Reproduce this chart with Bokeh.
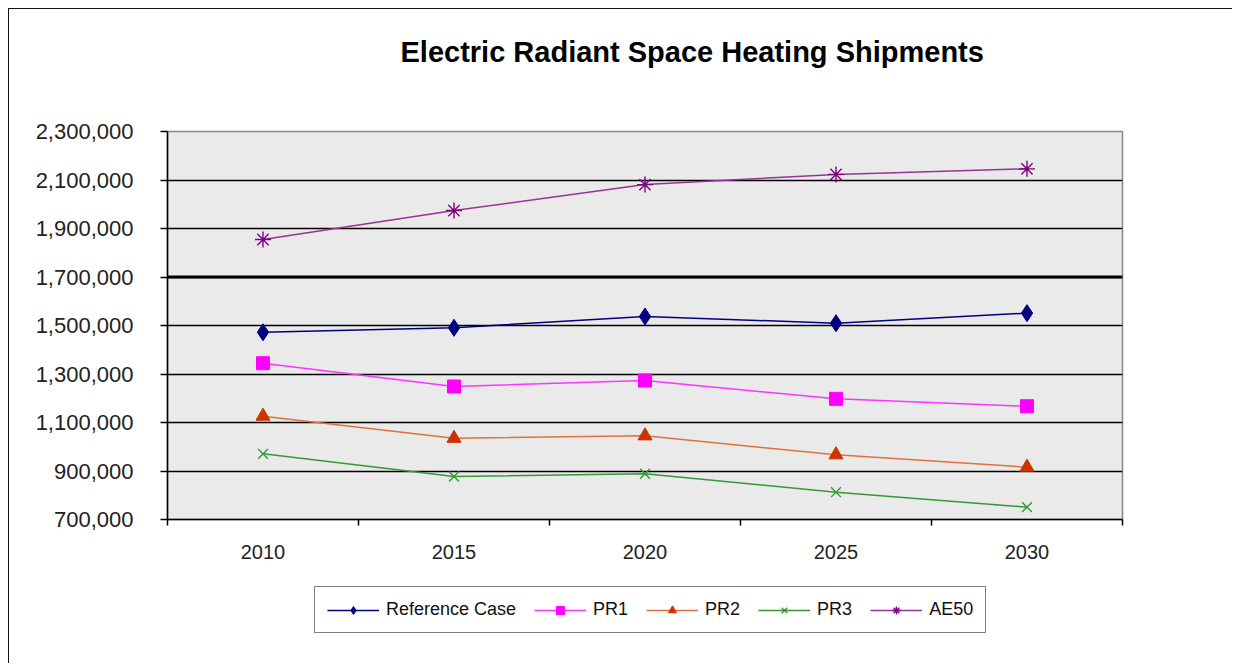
from bokeh.plotting import figure
from bokeh.layouts import column
from bokeh.models import FixedTicker, NumeralTickFormatter, Span, Legend, LegendItem, Range1d
from bokeh.embed import file_html
from bokeh.resources import INLINE

years = [2010, 2015, 2020, 2025, 2030]
reference_case = [1472000, 1490500, 1537000, 1509500, 1551000]
pr1 = [1344500, 1248500, 1273000, 1197600, 1167000]
pr2 = [1126000, 1035000, 1045000, 966700, 915800]
pr3 = [970800, 877300, 888400, 812700, 750900]
ae50 = [1854600, 1974000, 2081000, 2123000, 2146000]

y_ticks = [700000, 900000, 1100000, 1300000, 1500000, 1700000, 1900000, 2100000, 2300000]

series = [
    ("Reference Case", reference_case, "#000080", "#000080", "diamond", 17),
    ("PR1", pr1, "#FF33FF", "#FF00FF", "square", 13),
    ("PR2", pr2, "#E0703C", "#CC3300", "triangle", 14),
    ("PR3", pr3, "#339933", "#339933", "x", 14),
    ("AE50", ae50, "#993399", "#800080", "asterisk", 16),
]

p = figure(
    frame_width=955, frame_height=388,
    min_border_left=158, min_border_right=110, min_border_top=122, min_border_bottom=60,
    output_backend="svg", toolbar_location=None,
    x_range=Range1d(2007.5, 2032.5), y_range=Range1d(700000, 2300000),
    background_fill_color="#EAEAEA", border_fill_color="white",
)

p.title.text = "Electric Radiant  Space Heating Shipments\n \n"
p.title.text_font = "Liberation Sans"
p.title.text_font_size = "29px"
p.title.text_font_style = "bold"
p.title.text_color = "#000000"
p.title.align = "left"
p.title.offset = 233
p.title.standoff = 0

p.outline_line_color = "#888888"
p.outline_line_width = 1.5

p.xgrid.grid_line_color = None
p.ygrid.grid_line_color = "#000000"
p.ygrid.grid_line_width = 1.5
p.ygrid.ticker = FixedTicker(ticks=y_ticks)

p.add_layout(Span(location=1700000, dimension="width", line_color="#000000", line_width=3))

p.yaxis.ticker = FixedTicker(ticks=y_ticks)
p.yaxis.formatter = NumeralTickFormatter(format="0,0")
p.yaxis.major_label_text_font = "Liberation Sans"
p.yaxis.major_label_text_font_size = "22px"
p.yaxis.major_label_text_color = "#222222"
p.yaxis.major_label_standoff = 27
p.yaxis.major_tick_out = 7
p.yaxis.major_tick_in = 0
p.yaxis.major_tick_line_color = "#000000"
p.yaxis.major_tick_line_width = 1.5
p.yaxis.minor_tick_line_color = None
p.yaxis.axis_line_color = "#000000"
p.yaxis.axis_line_width = 1.5

bounds = [years[0] - 2.5] + [y + 2.5 for y in years]
p.xaxis.ticker = FixedTicker(ticks=years, minor_ticks=bounds)
p.xaxis.major_label_text_font = "Liberation Sans"
p.xaxis.major_label_text_font_size = "20px"
p.xaxis.major_label_text_color = "#222222"
p.xaxis.major_label_standoff = 19
p.xaxis.major_tick_line_color = None
p.xaxis.minor_tick_out = 6
p.xaxis.minor_tick_in = 0
p.xaxis.minor_tick_line_color = "#000000"
p.xaxis.minor_tick_line_width = 1.5
p.xaxis.axis_line_color = "#000000"
p.xaxis.axis_line_width = 1.5

for name, vals, lc, mc, marker, size in series:
    p.line(years, vals, line_color=lc, line_width=1.5)
    p.scatter(years, vals, marker=marker, size=size, fill_color=mc, line_color=mc,
              line_width=1.4 if marker in ("x", "asterisk") else 1)

# legend strip below the chart (same series; its own frame keeps the legend unclipped)
pl = figure(
    frame_width=955, frame_height=60,
    min_border_left=158, min_border_right=110, min_border_top=0, min_border_bottom=24,
    output_backend="svg", toolbar_location=None,
    x_range=Range1d(0, 1), y_range=Range1d(0, 1),
    background_fill_color="white", border_fill_color="white",
)
pl.axis.visible = False
pl.grid.visible = False
pl.outline_line_color = None

items = []
for name, vals, lc, mc, marker, size in series:
    r1 = pl.line(years, vals, line_color=lc, line_width=1.5)
    r2 = pl.scatter(years, vals, marker=marker, size=size, fill_color=mc, line_color=mc,
                    line_width=1.4 if marker in ("x", "asterisk") else 1)
    items.append(LegendItem(label=name, renderers=[r1, r2]))

legend = Legend(items=items, orientation="horizontal", location=(147, 6))
legend.label_text_font = "Liberation Sans"
legend.label_text_font_size = "18px"
legend.label_text_color = "#111111"
legend.glyph_width = 52
legend.glyph_height = 20
legend.label_standoff = 7
legend.spacing = 18
legend.padding = 12
legend.margin = 0
legend.border_line_color = "#000000"
legend.border_line_width = 1.5
legend.background_fill_color = "white"
legend.background_fill_alpha = 1.0
pl.add_layout(legend, "center")

layout = column(p, pl, spacing=0)
layout.styles = {"border-left": "1.5px solid #111111", "border-top": "1.5px solid #111111",
                 "margin-left": "8px", "margin-top": "8px"}

open("out.html", "w").write(file_html(layout, INLINE))
